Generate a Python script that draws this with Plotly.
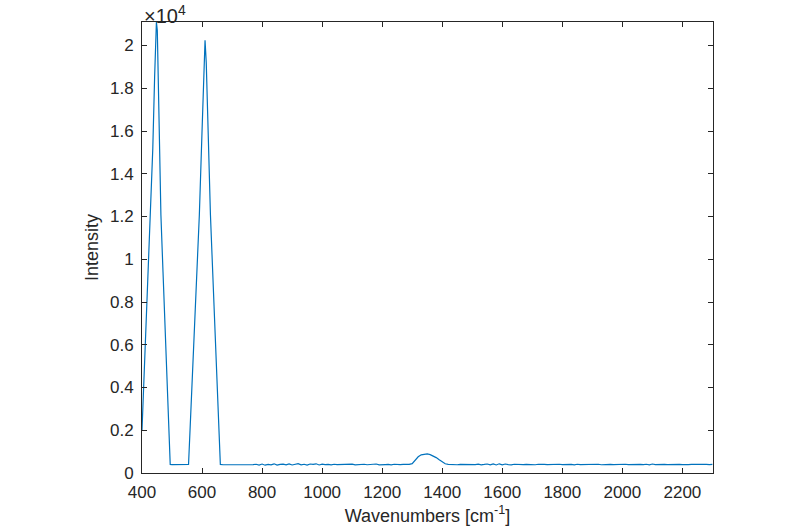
import plotly.graph_objects as go

# Peak 1 (left, ~448 cm-1)
peak1_x = [400, 410, 420, 428, 436, 442, 446, 448, 451, 455, 463, 470, 480, 490, 494]
peak1_y = [2000, 5600, 9200, 12070, 15200, 18500, 20600, 21100, 20700, 18000, 12070, 9400, 5600, 1900, 400]

# Flat gap between peaks
gap_x = [500, 510, 520, 530, 540, 550]
gap_y = [395, 390, 392, 388, 393, 390]

# Peak 2 (~610 cm-1)
peak2_x = [555, 560, 570, 580, 591, 600, 606, 610, 614, 620, 628, 640, 650, 661]
peak2_y = [400, 2000, 5300, 8600, 12070, 16000, 19000, 20250, 19200, 16000, 12070, 7800, 4300, 400]

# Baseline region 670..2300 step 10
base_x = list(range(670, 2301, 10))
base_y = [
    385, 384, 386, 385, 384, 386, 385, 384, 386, 385,
    392, 410, 372, 420, 365, 405, 380, 430, 370, 400,
    415, 380, 425, 375, 395, 440, 385, 410, 370, 420,
    400, 430, 375, 415, 390, 405, 380, 410, 395, 400,
    385, 405, 390, 415, 380, 400, 395, 410, 385, 405,
    390, 420, 380, 405, 395, 400, 385, 410, 390, 395,
    400, 395, 400, 440, 600, 760, 850, 885, 890, 860,
    800, 720, 620, 520, 430, 400, 390, 410, 385, 400,
    395, 410, 380, 405, 390, 415, 385, 400, 420, 380,
    425, 375, 430, 385, 420, 395, 380, 410, 395, 400,
    390, 405, 395, 400, 385, 410, 390, 400, 395, 405,
    385, 400, 410, 390, 405, 395, 400, 385, 410, 395,
    400, 390, 405, 395, 400, 410, 385, 400, 395, 405,
    390, 400, 405, 395, 410, 390, 400, 395, 405, 400,
    395, 410, 385, 420, 390, 400, 395, 405, 390, 400,
    405, 395, 400, 390, 410, 395, 400, 405, 390, 400,
    395, 405, 390, 400,
]

x_ticks = [400, 600, 800, 1000, 1200, 1400, 1600, 1800, 2000, 2200]
y_tickvals = [0, 2000, 4000, 6000, 8000, 10000, 12000, 14000, 16000, 18000, 20000]
y_ticktext = ["0", "0.2", "0.4", "0.6", "0.8", "1", "1.2", "1.4", "1.6", "1.8", "2"]

x = peak1_x + gap_x + peak2_x + base_x
y = peak1_y + gap_y + peak2_y + base_y

axis_color = "#262626"
font = dict(family="Liberation Sans, Arial, sans-serif", size=17, color=axis_color)

fig = go.Figure()
fig.add_trace(go.Scatter(x=x, y=y, mode="lines",
                         line=dict(color="#0072BD", width=1.2),
                         showlegend=False, hoverinfo="skip"))

fig.update_layout(
    width=800, height=532,
    margin=dict(l=142, r=87, t=22, b=59),
    paper_bgcolor="white", plot_bgcolor="white",
    font=font,
    xaxis=dict(range=[400, 2302], tickvals=x_ticks, ticks="inside", ticklen=5,
               tickcolor=axis_color, showline=True, linecolor=axis_color, linewidth=1,
               mirror="allticks", showgrid=False, zeroline=False, automargin=False,
               ticklabelstandoff=4,
               title=dict(text="Wavenumbers [cm<sup>-1</sup>]", standoff=7,
                          font=dict(size=18))),
    yaxis=dict(range=[0, 21100], tickvals=y_tickvals, ticktext=y_ticktext,
               ticks="inside", ticklen=5, tickcolor=axis_color,
               showline=True, linecolor=axis_color, linewidth=1,
               mirror="allticks", showgrid=False, zeroline=False, automargin=False,
               ticklabelstandoff=4,
               title=dict(text="Intensity", standoff=6, font=dict(size=18))),
)

fig.add_annotation(text="\u00d710<sup>4</sup>", xref="paper", yref="paper",
                   x=0, y=1, xanchor="left", yanchor="bottom", showarrow=False,
                   xshift=0, yshift=-7, font=dict(size=20, color=axis_color))

fig.write_html("out.html")
